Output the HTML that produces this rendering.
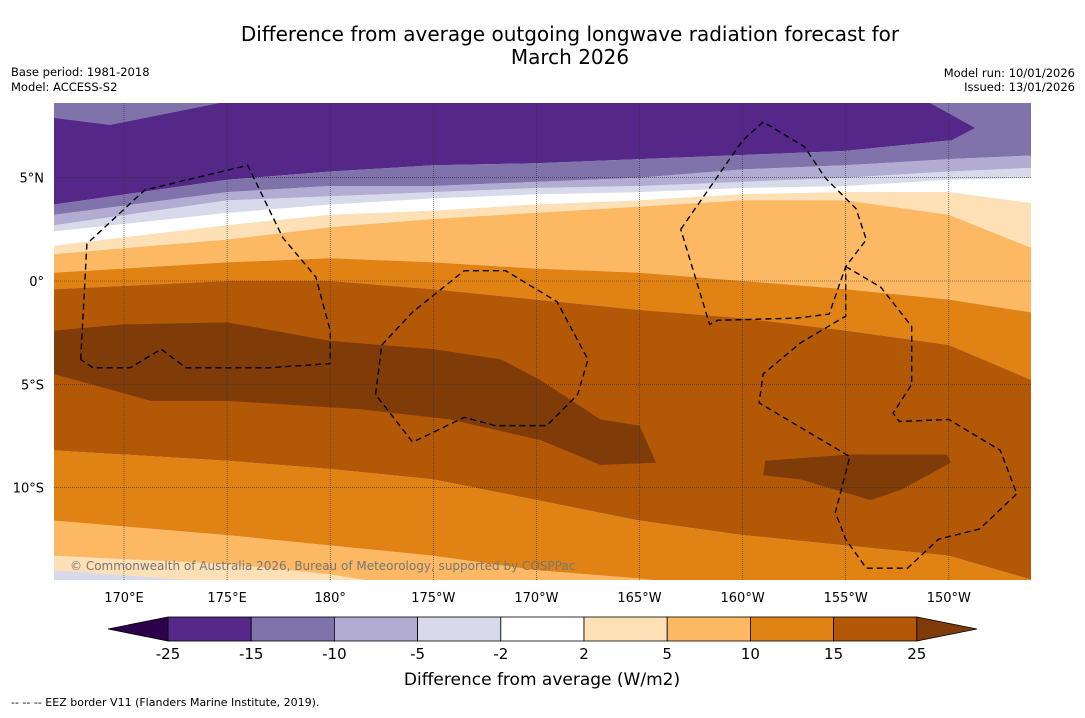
<!DOCTYPE html>
<html><head><meta charset="utf-8"><style>
body{margin:0;background:#fff;font-family:"Liberation Sans","DejaVu Sans",sans-serif}
svg text{font-family:"DejaVu Sans","Liberation Sans",sans-serif}
</style></head><body>
<svg id="c" width="1085" height="713" viewBox="0 0 1085 713" xmlns="http://www.w3.org/2000/svg">
<text x="570" y="41" font-size="20" text-anchor="middle">Difference from average outgoing longwave radiation forecast for</text>
<text x="570" y="64" font-size="20" text-anchor="middle">March 2026</text>
<text x="11" y="76" font-size="11.5">Base period: 1981-2018</text>
<text x="11" y="91" font-size="11.5">Model: ACCESS-S2</text>
<text x="1075" y="77" font-size="11.5" text-anchor="end">Model run: 10/01/2026</text>
<text x="1075" y="91" font-size="11.5" text-anchor="end">Issued: 13/01/2026</text>
<defs><clipPath id="mc"><rect x="54" y="103" width="977" height="477"/></clipPath></defs>
<g id="map" clip-path="url(#mc)"></g>
<g id="axes"></g>
<g id="cbar"></g>
<text x="542" y="685" font-size="17" text-anchor="middle">Difference from average (W/m2)</text>
<text x="11" y="706" font-size="11">--  --  -- EEZ border V11 (Flanders Marine Institute, 2019).</text>
</svg>
<script>
const lons=[166.6,175,180,185,190,195,200,205,210,214.5];
const bDarkPurple=[3.7,4.9,5.3,5.6,5.7,5.9,6.1,6.3,6.8,6.8];
const bPurple=[3.2,4.3,4.6,4.6,4.8,5.0,5.4,5.6,5.9,6.1];
const bLavender=[2.7,3.9,4.1,4.3,4.5,4.6,4.8,5.0,5.3,5.5];
const bPale=[2.4,3.3,3.7,4.0,4.2,4.3,4.5,4.6,4.9,5.0];
const bWhite=[1.7,2.7,3.2,3.4,3.7,3.9,4.2,4.3,4.3,3.7];
const bCream=[1.3,2.0,2.6,3.0,3.3,3.6,3.9,3.9,3.2,1.4];
const bLightOrange=[0.4,0.9,1.1,0.9,0.6,0.4,0.0,-0.4,-0.9,-1.6];
const bOrange=[-0.4,0.0,0.0,-0.4,-0.9,-1.4,-1.8,-2.4,-3.1,-5.0];
const bBrown=[-8.2,-8.7,-9.1,-9.6,-10.6,-11.6,-12.3,-12.8,-13.3,-14.6];
const bOrange2=[-11.6,-12.3,-12.8,-13.3,-14.0,-14.4,-15,-15,-15,-15];
const bLightOrange2=[-13.3,-13.7,-14.2,-15,-15,-15,-15,-15,-15,-15];
const bCream2=[-14.0,-14.6,-15,-15,-15,-15,-15,-15,-15,-15];
const patch1Lon=[166.6,170,175,180,185,188.3,190.2,193.1,195,195.8,193.1,190.2,185.8,181.4,175,171.3,166.6];
const patch1Lat=[-2.4,-2.1,-2.0,-2.9,-3.3,-3.8,-4.8,-6.7,-7.0,-8.8,-8.9,-7.7,-6.7,-6.2,-5.8,-5.8,-4.5];
const patch2Lon=[201.1,205.2,209.9,210.1,207.7,206.2,202.8,201];
const patch2Lat=[-8.7,-8.4,-8.4,-8.8,-10.1,-10.6,-9.6,-9.4];
const levels=["-25","-15","-10","-5","-2","2","5","10","15","25"];
const colors=["#542788","#8073ac","#b2abd2","#d8daeb","#ffffff","#fee0b6","#fdb863","#e08214","#b35806","#7f3b08"];
const lonTicks=[170,175,180,185,190,195,200,205,210];
const lonLabels=["170°E","175°E","180°","175°W","170°W","165°W","160°W","155°W","150°W"];
const latTicks=[5,0,-5,-10];
const latLabels=["5°N","0°","5°S","10°S"];
const eez1Lon=[167.9,168.2,171,176,177.7,179.3,180,180,177,173,171.8,170.3,168.5,167.9];
const eez1Lat=[-3.8,1.8,4.4,5.6,2.1,0.2,-2.4,-4.0,-4.2,-4.2,-3.3,-4.2,-4.2,-3.8];
const eez2Lon=[182.5,184,186.5,188.5,191,192.5,192,190.5,188,186.5,184,182.2,182.5];
const eez2Lat=[-3.1,-1.5,0.5,0.5,-1.0,-3.8,-5.5,-7.0,-7.0,-6.6,-7.8,-5.5,-3.1];
const eez3Lon=[197,200,201,203,204,205.5,206,205,204.2,202.6,198.8,198.4,197];
const eez3Lat=[2.5,6.8,7.7,6.5,5.0,3.5,2.0,0.7,-1.6,-1.8,-1.9,-2.1,2.5];
const eez4Lon=[205,206.7,208.2,208.2,207.3,207.6,210,212.5,213.3,211.5,209.5,208,206,205,204.5,205.2,200.8,201,202.8,205,205];
const eez4Lat=[0.7,-0.3,-2.2,-5.0,-6.4,-6.8,-6.7,-8.2,-10.3,-12.0,-12.5,-13.9,-13.9,-12.5,-11.2,-8.5,-5.9,-4.5,-3.0,-1.7,0.7];
const X=lon=>124+(lon-170)*20.62;
const Y=lat=>281-lat*20.66;
const NS="http://www.w3.org/2000/svg";
const map=document.getElementById('map');
function poly(pts,fill,name){const p=document.createElementNS(NS,'polygon');p.setAttribute('points',pts.map(q=>q.join(',')).join(' '));p.setAttribute('fill',fill);


map.appendChild(p);}
function band(top,bot,fill,name){const a=lons.map((l,i)=>[X(l),Y(top?top[i]:9)]);const b=lons.map((l,i)=>[X(l),Y(bot[i])]).reverse();poly(a.concat(b),fill,name);}
poly([[54,103],[1031,103],[1031,580],[54,580]],"#d8daeb","band-background");
const bands=[[null,bDarkPurple,colors[0]],[bDarkPurple,bPurple,colors[1]],[bPurple,bLavender,colors[2]],[bLavender,bPale,colors[3]],[bPale,bWhite,colors[4]],[bWhite,bCream,colors[5]],[bCream,bLightOrange,colors[6]],[bLightOrange,bOrange,colors[7]],[bOrange,bBrown,colors[8]],[bBrown,bOrange2,colors[7]],[bOrange2,bLightOrange2,colors[6]],[bLightOrange2,bCream2,colors[5]]];
bands.forEach((b,i)=>band(b[0],b[1],b[2],'contour-band-'+i));
poly([[54,103],[220,103],[110,125],[54,118]],colors[1],'purple-corner-west');
poly([[930,103],[1031,103],[1031,156],[950,141],[975,128]],colors[1],'purple-corner-east');
poly(patch1Lon.map((l,i)=>[X(l),Y(patch1Lat[i])]),colors[9],'anomaly-patch-west');
poly(patch2Lon.map((l,i)=>[X(l),Y(patch2Lat[i])]),colors[9],'anomaly-patch-east');
[[eez1Lon,eez1Lat],[eez2Lon,eez2Lat],[eez3Lon,eez3Lat],[eez4Lon,eez4Lat]].forEach((e,k)=>{const p=document.createElementNS(NS,'polyline');p.setAttribute('points',e[0].map((l,i)=>X(l)+','+Y(e[1][i])).join(' '));p.setAttribute('fill','none');p.setAttribute('stroke','#000');p.setAttribute('stroke-width','1.4');p.setAttribute('stroke-dasharray','6,4');


map.appendChild(p);});
lonTicks.forEach(l=>{const ln=document.createElementNS(NS,'line');ln.setAttribute('x1',X(l));ln.setAttribute('x2',X(l));ln.setAttribute('y1',103);ln.setAttribute('y2',580);ln.setAttribute('stroke','#333');ln.setAttribute('stroke-width','0.6');ln.setAttribute('stroke-dasharray','1,1');


map.appendChild(ln);});
latTicks.forEach(l=>{const ln=document.createElementNS(NS,'line');ln.setAttribute('x1',54);ln.setAttribute('x2',1031);ln.setAttribute('y1',Y(l));ln.setAttribute('y2',Y(l));ln.setAttribute('stroke','#333');ln.setAttribute('stroke-width','0.6');ln.setAttribute('stroke-dasharray','1,1');


map.appendChild(ln);});
const cp=document.createElementNS(NS,'text');cp.setAttribute('x',70);cp.setAttribute('y',570);cp.setAttribute('font-size','12');cp.setAttribute('fill','#777');cp.textContent='© Commonwealth of Australia 2026, Bureau of Meteorology, supported by COSPPac';


map.appendChild(cp);
const axes=document.getElementById('axes');
lonTicks.forEach((l,i)=>{const t=document.createElementNS(NS,'text');t.setAttribute('x',X(l));t.setAttribute('y',602);t.setAttribute('font-size','13');t.setAttribute('text-anchor','middle');t.textContent=lonLabels[i];


axes.appendChild(t);});
latTicks.forEach((l,i)=>{const t=document.createElementNS(NS,'text');t.setAttribute('x',44);t.setAttribute('y',Y(l)+5);t.setAttribute('font-size','13');t.setAttribute('text-anchor','end');t.textContent=latLabels[i];


axes.appendChild(t);});
const cb=document.getElementById('cbar');
const cx0=168,cw=83.2,cy=617,ch=24;
function cbEl(tag,attrs,name){const e=document.createElementNS(NS,tag);for(const k in attrs)e.setAttribute(k,attrs[k]);


cb.appendChild(e);}
cbEl('polygon',{points:`${cx0},${cy} ${cx0},${cy+ch} 108,${cy+ch/2}`,fill:'#2d004b',stroke:'#000','stroke-width':0.8},'colorbar-min-extend');
for(let i=0;i<9;i++)cbEl('rect',{x:cx0+i*cw,y:cy,width:cw,height:ch,fill:colors[i],stroke:'#000','stroke-width':0.8},'colorbar-box-'+i);
cbEl('polygon',{points:`${cx0+9*cw},${cy} ${cx0+9*cw},${cy+ch} 977,${cy+ch/2}`,fill:colors[9],stroke:'#000','stroke-width':0.8},'colorbar-max-extend');
levels.forEach((s,i)=>{const t=document.createElementNS(NS,'text');t.setAttribute('x',cx0+i*cw);t.setAttribute('y',659);t.setAttribute('font-size','15');t.setAttribute('text-anchor','middle');t.textContent=s;


cb.appendChild(t);});
</script>
</body></html>
